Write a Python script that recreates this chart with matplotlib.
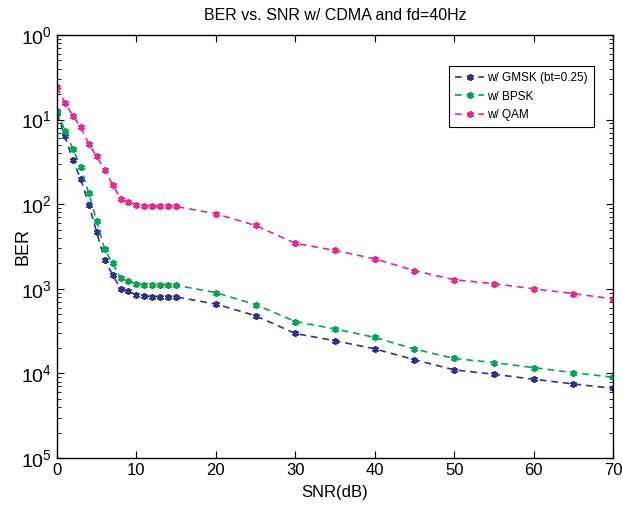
import matplotlib
matplotlib.use("Agg")
import matplotlib.pyplot as plt
from matplotlib.ticker import FixedLocator, FixedFormatter, LogLocator, NullFormatter

plt.rcParams['font.family'] = ['Liberation Sans', 'DejaVu Sans']
plt.rcParams['mathtext.fontset'] = 'custom'
plt.rcParams['mathtext.rm'] = 'Liberation Sans'
plt.rcParams['mathtext.it'] = 'Liberation Sans'

# SNR points (dB)
snr = [0, 1, 2, 3, 4, 5, 6, 7, 8, 9, 10, 11, 12, 13, 14, 15,
       20, 25, 30, 35, 40, 45, 50, 55, 60, 65, 70]

ber_gmsk = [0.118, 0.0636, 0.033, 0.0197, 0.0099, 0.00466, 0.0022, 0.00146,
            0.00100, 0.00093, 0.00085, 0.00082, 0.00081, 0.00080, 0.00080, 0.00080,
            0.00066, 0.00048, 0.000296, 0.000243, 0.000195, 0.000145, 0.000110,
            0.0000977, 0.0000852, 0.0000750, 0.0000665]
ber_bpsk = [0.127, 0.074, 0.0445, 0.0273, 0.0134, 0.0063, 0.00294, 0.00199,
            0.00135, 0.00125, 0.00114, 0.00112, 0.00111, 0.00111, 0.00111, 0.00110,
            0.00090, 0.00065, 0.00041, 0.000335, 0.000266, 0.000194, 0.000150,
            0.000134, 0.000117, 0.000102, 0.000090]
ber_qam = [0.24, 0.158, 0.111, 0.0806, 0.0512, 0.0366, 0.0251, 0.017,
           0.0116, 0.0107, 0.00986, 0.0096, 0.0095, 0.0094, 0.0094, 0.0094,
           0.0077, 0.0056, 0.00345, 0.00284, 0.00226, 0.00164, 0.00128,
           0.00115, 0.00100, 0.000877, 0.00076]

labels = ['w/ GMSK (bt=0.25)', 'w/ BPSK', 'w/ QAM']
colors = ['#2e3192', '#00a651', '#ec268f']

xticks = [0, 10, 20, 30, 40, 50, 60, 70]
yticks = [1e-5, 1e-4, 1e-3, 1e-2, 1e-1, 1e0]
# exponents as they appear in the picture (minus signs lost)
ytick_labels = [r'$10^{5}$', r'$10^{4}$', r'$10^{3}$', r'$10^{2}$', r'$10^{1}$', r'$10^{0}$']

fig = plt.figure(figsize=(6.23, 5.14), dpi=100)
ax = fig.add_axes([0.0915, 0.109, 0.8925, 0.823])

for y, lab, c in zip([ber_gmsk, ber_bpsk, ber_qam], labels, colors):
    ax.semilogy(snr, y, linestyle='--', color=c, marker=(6, 2, 0), markersize=5,
                markeredgewidth=1.3, linewidth=1.2, label=lab,
                dashes=(4, 3))

ax.set_xlim(0, 70)
ax.set_ylim(1e-5, 1)
ax.xaxis.set_major_locator(FixedLocator(xticks))
ax.yaxis.set_major_locator(FixedLocator(yticks))
ax.yaxis.set_major_formatter(FixedFormatter(ytick_labels))
ax.yaxis.set_minor_locator(LogLocator(base=10, subs=range(2, 10)))
ax.yaxis.set_minor_formatter(NullFormatter())

ax.tick_params(which='both', direction='in', top=True, right=True, labelsize=12)
ax.tick_params(which='major', length=5, width=0.8)
ax.tick_params(which='minor', length=3, width=0.6)
ax.tick_params(axis='y', labelsize=14)
for s in ax.spines.values():
    s.set_linewidth(1.0)

ax.set_title('BER vs. SNR w/ CDMA and fd=40Hz', fontsize=11.5, pad=11)
ax.set_xlabel('SNR(dB)', fontsize=12, labelpad=5)
ax.set_ylabel('BER', fontsize=13)
ax.yaxis.set_label_coords(-0.045, 0.5)

leg = ax.legend(loc='upper right', bbox_to_anchor=(0.976, 0.94), fontsize=8.5,
                fancybox=False, edgecolor='black', framealpha=1,
                handlelength=2.4, handletextpad=0.3, borderpad=0.5,
                labelspacing=0.55)
leg.get_frame().set_linewidth(0.8)

fig.savefig('out.png', dpi=100)
